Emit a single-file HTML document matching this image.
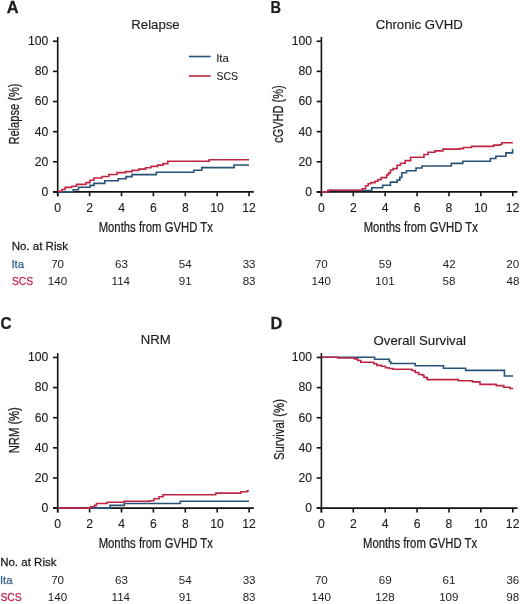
<!DOCTYPE html>
<html><head><meta charset="utf-8"><style>
html,body{margin:0;padding:0;background:#fff;width:520px;height:604px;overflow:hidden}
svg{display:block;will-change:transform}
text{font-family:"Liberation Sans", sans-serif}
</style></head><body>
<svg width="520" height="604" viewBox="0 0 520 604">

<text transform="translate(6.79 12.80) scale(1.0500 1)" font-size="15.60" font-weight="bold" fill="#1c1c1c" stroke="#1c1c1c" stroke-width="0.25">A</text>
<text transform="translate(270.43 12.80) scale(0.9300 1)" font-size="15.60" font-weight="bold" fill="#1c1c1c" stroke="#1c1c1c" stroke-width="0.25">B</text>
<text transform="translate(0.47 328.90) scale(0.9800 1)" font-size="15.60" font-weight="bold" fill="#1c1c1c" stroke="#1c1c1c" stroke-width="0.25">C</text>
<text transform="translate(270.60 328.90) scale(1.0500 1)" font-size="15.60" font-weight="bold" fill="#1c1c1c" stroke="#1c1c1c" stroke-width="0.25">D</text>
<line x1="57.70" y1="36.90" x2="57.70" y2="196.30" stroke="#111111" stroke-width="1.60"/>
<line x1="53.00" y1="191.90" x2="253.80" y2="191.90" stroke="#111111" stroke-width="1.60"/>
<line x1="53.00" y1="191.90" x2="57.70" y2="191.90" stroke="#111111" stroke-width="1.60"/>
<text x="41.59" y="195.80" font-size="12.20" fill="#1c1c1c" stroke="#1c1c1c" stroke-width="0.12">0</text>
<line x1="53.00" y1="161.77" x2="57.70" y2="161.77" stroke="#111111" stroke-width="1.60"/>
<text x="34.81" y="165.67" font-size="12.20" fill="#1c1c1c" stroke="#1c1c1c" stroke-width="0.12">20</text>
<line x1="53.00" y1="131.64" x2="57.70" y2="131.64" stroke="#111111" stroke-width="1.60"/>
<text x="34.81" y="135.54" font-size="12.20" fill="#1c1c1c" stroke="#1c1c1c" stroke-width="0.12">40</text>
<line x1="53.00" y1="101.51" x2="57.70" y2="101.51" stroke="#111111" stroke-width="1.60"/>
<text x="34.81" y="105.41" font-size="12.20" fill="#1c1c1c" stroke="#1c1c1c" stroke-width="0.12">60</text>
<line x1="53.00" y1="71.38" x2="57.70" y2="71.38" stroke="#111111" stroke-width="1.60"/>
<text x="34.81" y="75.28" font-size="12.20" fill="#1c1c1c" stroke="#1c1c1c" stroke-width="0.12">80</text>
<line x1="53.00" y1="41.25" x2="57.70" y2="41.25" stroke="#111111" stroke-width="1.60"/>
<text x="28.02" y="45.15" font-size="12.20" fill="#1c1c1c" stroke="#1c1c1c" stroke-width="0.12">100</text>
<line x1="57.70" y1="191.90" x2="57.70" y2="196.30" stroke="#111111" stroke-width="1.60"/>
<text x="54.31" y="211.50" font-size="12.20" fill="#1c1c1c" stroke="#1c1c1c" stroke-width="0.12">0</text>
<line x1="89.60" y1="191.90" x2="89.60" y2="196.30" stroke="#111111" stroke-width="1.60"/>
<text x="86.21" y="211.50" font-size="12.20" fill="#1c1c1c" stroke="#1c1c1c" stroke-width="0.12">2</text>
<line x1="121.50" y1="191.90" x2="121.50" y2="196.30" stroke="#111111" stroke-width="1.60"/>
<text x="118.15" y="211.50" font-size="12.20" fill="#1c1c1c" stroke="#1c1c1c" stroke-width="0.12">4</text>
<line x1="153.40" y1="191.90" x2="153.40" y2="196.30" stroke="#111111" stroke-width="1.60"/>
<text x="149.97" y="211.50" font-size="12.20" fill="#1c1c1c" stroke="#1c1c1c" stroke-width="0.12">6</text>
<line x1="185.30" y1="191.90" x2="185.30" y2="196.30" stroke="#111111" stroke-width="1.60"/>
<text x="181.91" y="211.50" font-size="12.20" fill="#1c1c1c" stroke="#1c1c1c" stroke-width="0.12">8</text>
<line x1="217.20" y1="191.90" x2="217.20" y2="196.30" stroke="#111111" stroke-width="1.60"/>
<text x="210.19" y="211.50" font-size="12.20" fill="#1c1c1c" stroke="#1c1c1c" stroke-width="0.12">10</text>
<line x1="249.10" y1="191.90" x2="249.10" y2="196.30" stroke="#111111" stroke-width="1.60"/>
<text x="242.16" y="211.50" font-size="12.20" fill="#1c1c1c" stroke="#1c1c1c" stroke-width="0.12">12</text>
<text transform="translate(98.67 232.10) scale(0.7650 1)" font-size="14.80" fill="#1c1c1c" stroke="#1c1c1c" stroke-width="0.25">Months from GVHD Tx</text>
<text x="131.29" y="28.50" font-size="13.20" fill="#1c1c1c" stroke="#1c1c1c" stroke-width="0.15">Relapse</text>
<text transform="translate(18.50 144.61) rotate(-90) scale(0.7520 1)" font-size="14.80" fill="#1c1c1c" stroke="#1c1c1c" stroke-width="0.25">Relapse (%)</text>
<text transform="translate(11.65 250.30) scale(1.0200 1)" font-size="11.30" fill="#1c1c1c" stroke="#1c1c1c" stroke-width="0.25">No. at Risk</text>
<text x="11.46" y="267.60" font-size="11.30" fill="#2f5f8e" stroke="#2f5f8e" stroke-width="0.25">Ita</text>
<text transform="translate(11.93 284.90) scale(0.9200 1)" font-size="11.30" fill="#bb2747" stroke="#bb2747" stroke-width="0.25">SCS</text>
<text x="51.18" y="267.60" font-size="11.60" fill="#1c1c1c">70</text>
<text x="47.81" y="284.90" font-size="11.60" fill="#1c1c1c">140</text>
<text x="115.01" y="267.60" font-size="11.60" fill="#1c1c1c">63</text>
<text x="111.55" y="284.90" font-size="11.60" fill="#1c1c1c">114</text>
<text x="178.79" y="267.60" font-size="11.60" fill="#1c1c1c">54</text>
<text x="178.86" y="284.90" font-size="11.60" fill="#1c1c1c">91</text>
<text x="242.68" y="267.60" font-size="11.60" fill="#1c1c1c">33</text>
<text x="242.65" y="284.90" font-size="11.60" fill="#1c1c1c">83</text>
<line x1="189.00" y1="56.50" x2="210.60" y2="56.50" stroke="#275378" stroke-width="1.60"/>
<line x1="189.00" y1="76.00" x2="210.60" y2="76.00" stroke="#bf2445" stroke-width="1.60"/>
<text x="216.15" y="61.70" font-size="11.40" fill="#1c1c1c" stroke="#1c1c1c" stroke-width="0.10">Ita</text>
<text transform="translate(216.42 80.20) scale(0.9200 1)" font-size="11.40" fill="#1c1c1c" stroke="#1c1c1c" stroke-width="0.10">SCS</text>
<line x1="321.40" y1="36.90" x2="321.40" y2="196.30" stroke="#111111" stroke-width="1.60"/>
<line x1="316.70" y1="191.90" x2="517.50" y2="191.90" stroke="#111111" stroke-width="1.60"/>
<line x1="316.70" y1="191.90" x2="321.40" y2="191.90" stroke="#111111" stroke-width="1.60"/>
<text x="305.29" y="195.80" font-size="12.20" fill="#1c1c1c" stroke="#1c1c1c" stroke-width="0.12">0</text>
<line x1="316.70" y1="161.77" x2="321.40" y2="161.77" stroke="#111111" stroke-width="1.60"/>
<text x="298.51" y="165.67" font-size="12.20" fill="#1c1c1c" stroke="#1c1c1c" stroke-width="0.12">20</text>
<line x1="316.70" y1="131.64" x2="321.40" y2="131.64" stroke="#111111" stroke-width="1.60"/>
<text x="298.51" y="135.54" font-size="12.20" fill="#1c1c1c" stroke="#1c1c1c" stroke-width="0.12">40</text>
<line x1="316.70" y1="101.51" x2="321.40" y2="101.51" stroke="#111111" stroke-width="1.60"/>
<text x="298.51" y="105.41" font-size="12.20" fill="#1c1c1c" stroke="#1c1c1c" stroke-width="0.12">60</text>
<line x1="316.70" y1="71.38" x2="321.40" y2="71.38" stroke="#111111" stroke-width="1.60"/>
<text x="298.51" y="75.28" font-size="12.20" fill="#1c1c1c" stroke="#1c1c1c" stroke-width="0.12">80</text>
<line x1="316.70" y1="41.25" x2="321.40" y2="41.25" stroke="#111111" stroke-width="1.60"/>
<text x="291.72" y="45.15" font-size="12.20" fill="#1c1c1c" stroke="#1c1c1c" stroke-width="0.12">100</text>
<line x1="321.40" y1="191.90" x2="321.40" y2="196.30" stroke="#111111" stroke-width="1.60"/>
<text x="318.01" y="211.50" font-size="12.20" fill="#1c1c1c" stroke="#1c1c1c" stroke-width="0.12">0</text>
<line x1="353.30" y1="191.90" x2="353.30" y2="196.30" stroke="#111111" stroke-width="1.60"/>
<text x="349.91" y="211.50" font-size="12.20" fill="#1c1c1c" stroke="#1c1c1c" stroke-width="0.12">2</text>
<line x1="385.20" y1="191.90" x2="385.20" y2="196.30" stroke="#111111" stroke-width="1.60"/>
<text x="381.85" y="211.50" font-size="12.20" fill="#1c1c1c" stroke="#1c1c1c" stroke-width="0.12">4</text>
<line x1="417.10" y1="191.90" x2="417.10" y2="196.30" stroke="#111111" stroke-width="1.60"/>
<text x="413.67" y="211.50" font-size="12.20" fill="#1c1c1c" stroke="#1c1c1c" stroke-width="0.12">6</text>
<line x1="449.00" y1="191.90" x2="449.00" y2="196.30" stroke="#111111" stroke-width="1.60"/>
<text x="445.61" y="211.50" font-size="12.20" fill="#1c1c1c" stroke="#1c1c1c" stroke-width="0.12">8</text>
<line x1="480.90" y1="191.90" x2="480.90" y2="196.30" stroke="#111111" stroke-width="1.60"/>
<text x="473.89" y="211.50" font-size="12.20" fill="#1c1c1c" stroke="#1c1c1c" stroke-width="0.12">10</text>
<line x1="512.80" y1="191.90" x2="512.80" y2="196.30" stroke="#111111" stroke-width="1.60"/>
<text x="505.86" y="211.50" font-size="12.20" fill="#1c1c1c" stroke="#1c1c1c" stroke-width="0.12">12</text>
<text transform="translate(363.67 232.10) scale(0.7650 1)" font-size="14.80" fill="#1c1c1c" stroke="#1c1c1c" stroke-width="0.25">Months from GVHD Tx</text>
<text x="375.64" y="28.60" font-size="13.20" fill="#1c1c1c" stroke="#1c1c1c" stroke-width="0.15">Chronic GVHD</text>
<text transform="translate(283.00 142.87) rotate(-90) scale(0.7450 1)" font-size="14.80" fill="#1c1c1c" stroke="#1c1c1c" stroke-width="0.25">cGVHD (%)</text>
<text x="314.88" y="267.60" font-size="11.60" fill="#1c1c1c">70</text>
<text x="311.51" y="284.90" font-size="11.60" fill="#1c1c1c">140</text>
<text x="378.79" y="267.60" font-size="11.60" fill="#1c1c1c">59</text>
<text x="375.36" y="284.90" font-size="11.60" fill="#1c1c1c">101</text>
<text x="442.71" y="267.60" font-size="11.60" fill="#1c1c1c">42</text>
<text x="442.57" y="284.90" font-size="11.60" fill="#1c1c1c">58</text>
<text x="506.28" y="267.60" font-size="11.60" fill="#1c1c1c">20</text>
<text x="506.47" y="284.90" font-size="11.60" fill="#1c1c1c">48</text>
<line x1="57.70" y1="353.10" x2="57.70" y2="512.50" stroke="#111111" stroke-width="1.60"/>
<line x1="53.00" y1="508.10" x2="253.80" y2="508.10" stroke="#111111" stroke-width="1.60"/>
<line x1="53.00" y1="508.10" x2="57.70" y2="508.10" stroke="#111111" stroke-width="1.60"/>
<text x="41.59" y="512.00" font-size="12.20" fill="#1c1c1c" stroke="#1c1c1c" stroke-width="0.12">0</text>
<line x1="53.00" y1="477.97" x2="57.70" y2="477.97" stroke="#111111" stroke-width="1.60"/>
<text x="34.81" y="481.87" font-size="12.20" fill="#1c1c1c" stroke="#1c1c1c" stroke-width="0.12">20</text>
<line x1="53.00" y1="447.84" x2="57.70" y2="447.84" stroke="#111111" stroke-width="1.60"/>
<text x="34.81" y="451.74" font-size="12.20" fill="#1c1c1c" stroke="#1c1c1c" stroke-width="0.12">40</text>
<line x1="53.00" y1="417.71" x2="57.70" y2="417.71" stroke="#111111" stroke-width="1.60"/>
<text x="34.81" y="421.61" font-size="12.20" fill="#1c1c1c" stroke="#1c1c1c" stroke-width="0.12">60</text>
<line x1="53.00" y1="387.58" x2="57.70" y2="387.58" stroke="#111111" stroke-width="1.60"/>
<text x="34.81" y="391.48" font-size="12.20" fill="#1c1c1c" stroke="#1c1c1c" stroke-width="0.12">80</text>
<line x1="53.00" y1="357.45" x2="57.70" y2="357.45" stroke="#111111" stroke-width="1.60"/>
<text x="28.02" y="361.35" font-size="12.20" fill="#1c1c1c" stroke="#1c1c1c" stroke-width="0.12">100</text>
<line x1="57.70" y1="508.10" x2="57.70" y2="512.50" stroke="#111111" stroke-width="1.60"/>
<text x="54.31" y="527.70" font-size="12.20" fill="#1c1c1c" stroke="#1c1c1c" stroke-width="0.12">0</text>
<line x1="89.60" y1="508.10" x2="89.60" y2="512.50" stroke="#111111" stroke-width="1.60"/>
<text x="86.21" y="527.70" font-size="12.20" fill="#1c1c1c" stroke="#1c1c1c" stroke-width="0.12">2</text>
<line x1="121.50" y1="508.10" x2="121.50" y2="512.50" stroke="#111111" stroke-width="1.60"/>
<text x="118.15" y="527.70" font-size="12.20" fill="#1c1c1c" stroke="#1c1c1c" stroke-width="0.12">4</text>
<line x1="153.40" y1="508.10" x2="153.40" y2="512.50" stroke="#111111" stroke-width="1.60"/>
<text x="149.97" y="527.70" font-size="12.20" fill="#1c1c1c" stroke="#1c1c1c" stroke-width="0.12">6</text>
<line x1="185.30" y1="508.10" x2="185.30" y2="512.50" stroke="#111111" stroke-width="1.60"/>
<text x="181.91" y="527.70" font-size="12.20" fill="#1c1c1c" stroke="#1c1c1c" stroke-width="0.12">8</text>
<line x1="217.20" y1="508.10" x2="217.20" y2="512.50" stroke="#111111" stroke-width="1.60"/>
<text x="210.19" y="527.70" font-size="12.20" fill="#1c1c1c" stroke="#1c1c1c" stroke-width="0.12">10</text>
<line x1="249.10" y1="508.10" x2="249.10" y2="512.50" stroke="#111111" stroke-width="1.60"/>
<text x="242.16" y="527.70" font-size="12.20" fill="#1c1c1c" stroke="#1c1c1c" stroke-width="0.12">12</text>
<text transform="translate(98.67 548.30) scale(0.7650 1)" font-size="14.80" fill="#1c1c1c" stroke="#1c1c1c" stroke-width="0.25">Months from GVHD Tx</text>
<text x="140.82" y="344.30" font-size="13.20" fill="#1c1c1c" stroke="#1c1c1c" stroke-width="0.15">NRM</text>
<text transform="translate(18.70 453.32) rotate(-90) scale(0.7600 1)" font-size="14.80" fill="#1c1c1c" stroke="#1c1c1c" stroke-width="0.25">NRM (%)</text>
<text transform="translate(0.15 566.20) scale(1.0200 1)" font-size="11.30" fill="#1c1c1c" stroke="#1c1c1c" stroke-width="0.25">No. at Risk</text>
<text x="-0.04" y="583.50" font-size="11.30" fill="#2f5f8e" stroke="#2f5f8e" stroke-width="0.25">Ita</text>
<text transform="translate(0.43 600.80) scale(0.9200 1)" font-size="11.30" fill="#bb2747" stroke="#bb2747" stroke-width="0.25">SCS</text>
<text x="51.18" y="583.50" font-size="11.60" fill="#1c1c1c">70</text>
<text x="47.81" y="600.80" font-size="11.60" fill="#1c1c1c">140</text>
<text x="115.01" y="583.50" font-size="11.60" fill="#1c1c1c">63</text>
<text x="111.55" y="600.80" font-size="11.60" fill="#1c1c1c">114</text>
<text x="178.79" y="583.50" font-size="11.60" fill="#1c1c1c">54</text>
<text x="178.86" y="600.80" font-size="11.60" fill="#1c1c1c">91</text>
<text x="242.68" y="583.50" font-size="11.60" fill="#1c1c1c">33</text>
<text x="242.65" y="600.80" font-size="11.60" fill="#1c1c1c">83</text>
<line x1="321.40" y1="353.10" x2="321.40" y2="512.50" stroke="#111111" stroke-width="1.60"/>
<line x1="316.70" y1="508.10" x2="517.50" y2="508.10" stroke="#111111" stroke-width="1.60"/>
<line x1="316.70" y1="508.10" x2="321.40" y2="508.10" stroke="#111111" stroke-width="1.60"/>
<text x="305.29" y="512.00" font-size="12.20" fill="#1c1c1c" stroke="#1c1c1c" stroke-width="0.12">0</text>
<line x1="316.70" y1="477.97" x2="321.40" y2="477.97" stroke="#111111" stroke-width="1.60"/>
<text x="298.51" y="481.87" font-size="12.20" fill="#1c1c1c" stroke="#1c1c1c" stroke-width="0.12">20</text>
<line x1="316.70" y1="447.84" x2="321.40" y2="447.84" stroke="#111111" stroke-width="1.60"/>
<text x="298.51" y="451.74" font-size="12.20" fill="#1c1c1c" stroke="#1c1c1c" stroke-width="0.12">40</text>
<line x1="316.70" y1="417.71" x2="321.40" y2="417.71" stroke="#111111" stroke-width="1.60"/>
<text x="298.51" y="421.61" font-size="12.20" fill="#1c1c1c" stroke="#1c1c1c" stroke-width="0.12">60</text>
<line x1="316.70" y1="387.58" x2="321.40" y2="387.58" stroke="#111111" stroke-width="1.60"/>
<text x="298.51" y="391.48" font-size="12.20" fill="#1c1c1c" stroke="#1c1c1c" stroke-width="0.12">80</text>
<line x1="316.70" y1="357.45" x2="321.40" y2="357.45" stroke="#111111" stroke-width="1.60"/>
<text x="291.72" y="361.35" font-size="12.20" fill="#1c1c1c" stroke="#1c1c1c" stroke-width="0.12">100</text>
<line x1="321.40" y1="508.10" x2="321.40" y2="512.50" stroke="#111111" stroke-width="1.60"/>
<text x="318.01" y="527.70" font-size="12.20" fill="#1c1c1c" stroke="#1c1c1c" stroke-width="0.12">0</text>
<line x1="353.30" y1="508.10" x2="353.30" y2="512.50" stroke="#111111" stroke-width="1.60"/>
<text x="349.91" y="527.70" font-size="12.20" fill="#1c1c1c" stroke="#1c1c1c" stroke-width="0.12">2</text>
<line x1="385.20" y1="508.10" x2="385.20" y2="512.50" stroke="#111111" stroke-width="1.60"/>
<text x="381.85" y="527.70" font-size="12.20" fill="#1c1c1c" stroke="#1c1c1c" stroke-width="0.12">4</text>
<line x1="417.10" y1="508.10" x2="417.10" y2="512.50" stroke="#111111" stroke-width="1.60"/>
<text x="413.67" y="527.70" font-size="12.20" fill="#1c1c1c" stroke="#1c1c1c" stroke-width="0.12">6</text>
<line x1="449.00" y1="508.10" x2="449.00" y2="512.50" stroke="#111111" stroke-width="1.60"/>
<text x="445.61" y="527.70" font-size="12.20" fill="#1c1c1c" stroke="#1c1c1c" stroke-width="0.12">8</text>
<line x1="480.90" y1="508.10" x2="480.90" y2="512.50" stroke="#111111" stroke-width="1.60"/>
<text x="473.89" y="527.70" font-size="12.20" fill="#1c1c1c" stroke="#1c1c1c" stroke-width="0.12">10</text>
<line x1="512.80" y1="508.10" x2="512.80" y2="512.50" stroke="#111111" stroke-width="1.60"/>
<text x="505.86" y="527.70" font-size="12.20" fill="#1c1c1c" stroke="#1c1c1c" stroke-width="0.12">12</text>
<text transform="translate(362.97 548.30) scale(0.7650 1)" font-size="14.80" fill="#1c1c1c" stroke="#1c1c1c" stroke-width="0.25">Months from GVHD Tx</text>
<text x="373.62" y="344.50" font-size="13.20" fill="#1c1c1c" stroke="#1c1c1c" stroke-width="0.15">Overall Survival</text>
<text transform="translate(283.50 460.01) rotate(-90) scale(0.7650 1)" font-size="14.80" fill="#1c1c1c" stroke="#1c1c1c" stroke-width="0.25">Survival (%)</text>
<text x="314.88" y="583.50" font-size="11.60" fill="#1c1c1c">70</text>
<text x="311.51" y="600.80" font-size="11.60" fill="#1c1c1c">140</text>
<text x="378.73" y="583.50" font-size="11.60" fill="#1c1c1c">69</text>
<text x="375.33" y="600.80" font-size="11.60" fill="#1c1c1c">128</text>
<text x="442.54" y="583.50" font-size="11.60" fill="#1c1c1c">61</text>
<text x="439.16" y="600.80" font-size="11.60" fill="#1c1c1c">109</text>
<text x="506.38" y="583.50" font-size="11.60" fill="#1c1c1c">36</text>
<text x="506.33" y="600.80" font-size="11.60" fill="#1c1c1c">98</text>
<path d="M57.7 191.9 L73.2 191.9 L73.2 189.8 L78.5 189.8 L78.5 187.2 L90.0 187.2 L90.0 185.4 L94.0 185.4 L94.0 183.4 L104.8 183.4 L104.8 180.8 L118.3 180.8 L118.3 178.8 L126.0 178.8 L126.0 176.6 L132.0 176.6 L132.0 174.6 L156.3 174.6 L156.3 172.3 L193.7 172.3 L193.7 170.3 L201.8 170.3 L201.8 167.6 L234.1 167.6 L234.1 165.0 L249.0 165.0 L249.0 165.0" fill="none" stroke="#275378" stroke-width="1.60"/>
<path d="M57.7 191.2 L61.7 191.2 L61.7 189.5 L65.1 189.5 L65.1 187.4 L71.8 187.4 L71.8 186.2 L76.5 186.2 L76.5 184.4 L86.0 184.4 L86.0 182.6 L90.0 182.6 L90.0 180.2 L94.0 180.2 L94.0 178.0 L102.0 178.0 L102.0 176.5 L108.8 176.5 L108.8 174.5 L117.0 174.5 L117.0 172.6 L125.4 172.6 L125.4 171.6 L132.1 171.6 L132.1 170.4 L138.8 170.4 L138.8 169.1 L145.6 169.1 L145.6 167.8 L151.0 167.8 L151.0 166.4 L157.7 166.4 L157.7 165.1 L163.0 165.1 L163.0 163.6 L167.8 163.6 L167.8 161.2 L209.2 161.2 L209.2 159.8 L249.0 159.8 L249.0 159.8" fill="none" stroke="#bf2445" stroke-width="1.60"/>
<path d="M321.4 191.9 L328.0 191.9 L328.0 190.5 L371.8 190.5 L371.8 187.7 L382.6 187.7 L382.6 185.3 L390.4 185.3 L390.4 182.1 L397.1 182.1 L397.1 180.1 L399.8 180.1 L399.8 177.4 L401.8 177.4 L401.8 172.7 L406.5 172.7 L406.5 170.7 L416.0 170.7 L416.0 168.0 L422.0 168.0 L422.0 166.0 L451.3 166.0 L451.3 163.4 L462.8 163.4 L462.8 161.2 L490.4 161.2 L490.4 158.5 L495.8 158.5 L495.8 156.2 L505.9 156.2 L505.9 152.9 L512.6 152.9 L512.6 149.5 L512.8 149.5 L512.8 149.5" fill="none" stroke="#275378" stroke-width="1.60"/>
<path d="M321.4 191.9 L328.0 191.9 L328.0 190.3 L362.3 190.3 L362.3 188.7 L365.5 188.7 L365.5 185.8 L368.1 185.8 L368.1 183.7 L370.8 183.7 L370.8 182.6 L375.0 182.6 L375.0 181.3 L377.9 181.3 L377.9 179.6 L381.2 179.6 L381.2 177.6 L386.6 177.6 L386.6 174.9 L388.6 174.9 L388.6 172.9 L390.4 172.9 L390.4 170.0 L393.1 170.0 L393.1 168.6 L397.1 168.6 L397.1 165.3 L400.5 165.3 L400.5 163.3 L405.2 163.3 L405.2 160.6 L410.6 160.6 L410.6 157.2 L424.0 157.2 L424.0 154.5 L428.1 154.5 L428.1 152.2 L434.8 152.2 L434.8 150.9 L442.9 150.9 L442.9 149.1 L459.4 149.1 L459.4 148.6 L463.5 148.6 L463.5 147.5 L471.5 147.5 L471.5 146.4 L493.7 146.4 L493.7 145.1 L499.8 145.1 L499.8 144.5 L501.8 144.5 L501.8 142.8 L512.8 142.8 L512.8 142.8" fill="none" stroke="#bf2445" stroke-width="1.60"/>
<path d="M57.7 508.1 L110.0 508.1 L110.0 505.4 L124.4 505.4 L124.4 503.5 L180.3 503.5 L180.3 501.2 L249.0 501.2 L249.0 501.2" fill="none" stroke="#275378" stroke-width="1.60"/>
<path d="M57.7 508.1 L88.8 508.1 L88.8 508.1 L90.8 508.1 L90.8 506.8 L94.6 506.8 L94.6 505.4 L96.5 505.4 L96.5 503.5 L107.1 503.5 L107.1 502.3 L124.0 502.3 L124.0 501.3 L150.0 501.3 L150.0 500.8 L154.0 500.8 L154.0 498.7 L159.1 498.7 L159.1 496.7 L163.1 496.7 L163.1 494.7 L215.7 494.7 L215.7 493.1 L240.9 493.1 L240.9 491.7 L247.0 491.7 L247.0 490.7 L249.0 490.7 L249.0 490.7" fill="none" stroke="#bf2445" stroke-width="1.60"/>
<path d="M321.5 357.3 L374.6 357.3 L374.6 359.2 L389.2 359.2 L389.2 361.5 L390.8 361.5 L390.8 363.5 L415.2 363.5 L415.2 365.8 L443.5 365.8 L443.5 368.2 L465.6 368.2 L465.6 370.4 L504.4 370.4 L504.4 376.0 L513.1 376.0 L513.1 376.0" fill="none" stroke="#275378" stroke-width="1.60"/>
<path d="M321.5 357.3 L337.7 357.3 L337.7 358.0 L354.6 358.0 L354.6 358.9 L357.7 358.9 L357.7 360.5 L360.8 360.5 L360.8 362.3 L373.8 362.3 L373.8 363.8 L376.9 363.8 L376.9 365.4 L381.5 365.4 L381.5 366.3 L385.4 366.3 L385.4 367.7 L389.2 367.7 L389.2 368.5 L393.1 368.5 L393.1 369.2 L411.8 369.2 L411.8 370.5 L415.2 370.5 L415.2 372.5 L418.6 372.5 L418.6 374.5 L422.6 374.5 L422.6 375.2 L423.9 375.2 L423.9 377.2 L426.6 377.2 L426.6 377.9 L427.3 377.9 L427.3 379.6 L458.3 379.6 L458.3 380.8 L472.5 380.8 L472.5 381.9 L480.0 381.9 L480.0 384.4 L496.3 384.4 L496.3 385.6 L503.8 385.6 L503.8 387.3 L510.0 387.3 L510.0 388.5 L513.1 388.5 L513.1 388.5" fill="none" stroke="#bf2445" stroke-width="1.60"/>
</svg>
</body></html>
